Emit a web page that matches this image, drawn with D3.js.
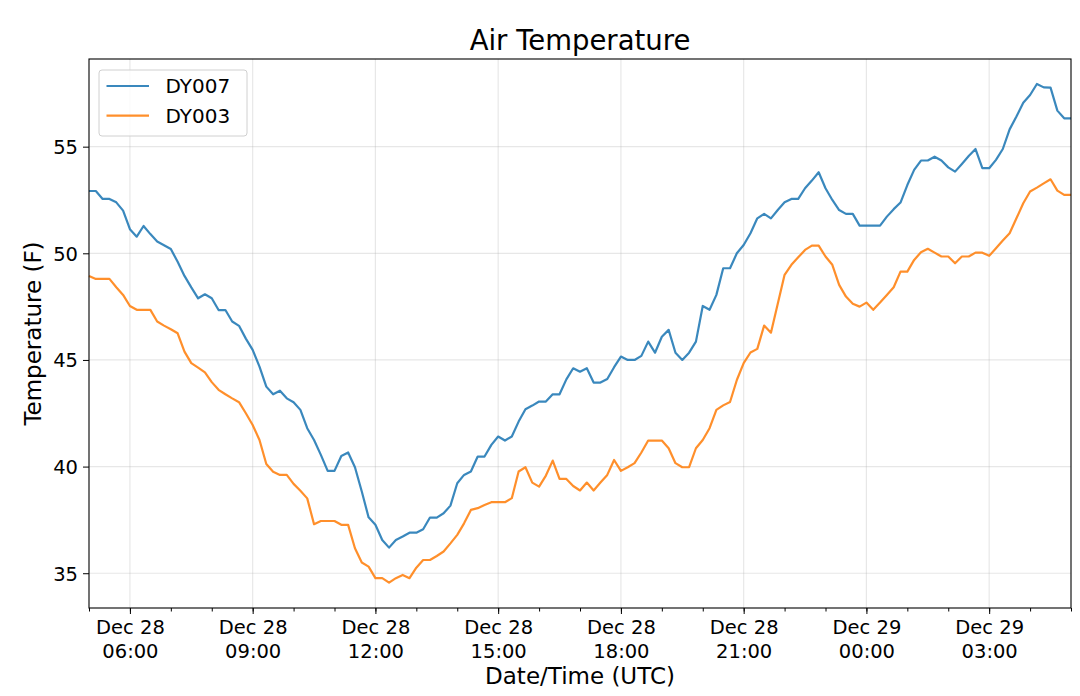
<!DOCTYPE html>
<html>
<head>
<meta charset="utf-8">
<script src="https://cdn.jsdelivr.net/npm/d3@7"></script>
<style>
  body { margin: 0; background: #fff; }
  text { font-family: "DejaVu Sans", sans-serif; fill: #000; }
</style>
</head>
<body>
<div id="chart"></div>
<script>
// Readings every 10 minutes, Dec 28 05:00 to Dec 29 05:00 UTC
const startTime = "2019-12-28T05:00:00Z";
const stepMinutes = 10;

const seriesNames = ["DY007", "DY003"];
const seriesColors = ["#1f77b4", "#ff7f0e"];

const dy007 = [
  52.92, 52.92, 52.55, 52.55, 52.39, 52.0, 51.13, 50.78, 51.28, 50.9,
  50.55, 50.38, 50.2, 49.6, 48.94, 48.4, 47.89, 48.08, 47.89, 47.34,
  47.34, 46.8, 46.6, 46.0, 45.47, 44.69, 43.75, 43.39, 43.56, 43.2,
  43.02, 42.66, 41.8, 41.25, 40.55, 39.8, 39.8, 40.5, 40.66, 39.97,
  38.83, 37.62, 37.27, 36.56, 36.2, 36.56, 36.72, 36.9, 36.9, 37.06,
  37.61, 37.61, 37.81, 38.17, 39.22, 39.61, 39.77, 40.47, 40.47, 41.02,
  41.41, 41.22, 41.41, 42.11, 42.69, 42.86, 43.05, 43.05, 43.39, 43.39,
  44.09, 44.61, 44.45, 44.61, 43.94, 43.94, 44.11, 44.66, 45.16, 45.0,
  45.0, 45.19, 45.86, 45.34, 46.09, 46.41, 45.34, 45.0, 45.34, 45.86,
  47.53, 47.35, 48.05, 49.3, 49.3, 50.0, 50.39, 50.94, 51.64, 51.85,
  51.64, 52.03, 52.39, 52.55, 52.55, 53.05, 53.41, 53.8, 53.05, 52.5,
  52.03, 51.85, 51.85, 51.3, 51.3, 51.3, 51.3, 51.72, 52.07, 52.38,
  53.2, 53.91, 54.35, 54.35, 54.53, 54.35, 54.03, 53.83, 54.19, 54.56,
  54.89, 53.99, 53.99, 54.38, 54.89, 55.81, 56.41, 57.06, 57.42, 57.94,
  57.78, 57.77, 56.69, 56.33, 56.33
];

const dy003 = [
  48.94, 48.8, 48.8, 48.8, 48.41, 48.05, 47.53, 47.35, 47.35, 47.35,
  46.8, 46.61, 46.44, 46.25, 45.39, 44.85, 44.64, 44.42, 43.96, 43.6,
  43.39, 43.2, 43.02, 42.5, 41.95, 41.25, 40.12, 39.76, 39.61, 39.61,
  39.19, 38.87, 38.51, 37.3, 37.45, 37.45, 37.45, 37.27, 37.27, 36.17,
  35.5, 35.31, 34.77, 34.77, 34.56, 34.77, 34.92, 34.77, 35.26, 35.62,
  35.62, 35.81, 36.02, 36.4, 36.8, 37.34, 37.97, 38.05, 38.2, 38.33,
  38.33, 38.33, 38.52, 39.77, 39.97, 39.25, 39.06, 39.58, 40.28, 39.42,
  39.42, 39.09, 38.88, 39.25, 38.88, 39.25, 39.61, 40.31, 39.8, 39.97,
  40.16, 40.66, 41.22, 41.22, 41.22, 40.86, 40.16, 39.97, 39.97, 40.86,
  41.25, 41.8, 42.66, 42.87, 43.03, 44.06, 44.85, 45.35, 45.52, 46.61,
  46.28, 47.63, 48.99, 49.46, 49.81, 50.16, 50.36, 50.36, 49.85, 49.46,
  48.52, 47.97, 47.63, 47.5, 47.69, 47.35, 47.69, 48.05, 48.41, 49.14,
  49.14, 49.69, 50.05, 50.21, 50.03, 49.85, 49.85, 49.53, 49.85, 49.85,
  50.03, 50.03, 49.88, 50.24, 50.6, 50.94, 51.64, 52.35, 52.9, 53.08,
  53.28, 53.47, 52.94, 52.74, 52.74
];

const yTicks = [35, 40, 45, 50, 55];

// Size
const W = 1080, H = 696;
const margin = { top: 59, right: 9, bottom: 88, left: 89 };
const width = W - margin.left - margin.right;
const height = H - margin.top - margin.bottom;

const svg = d3.select("#chart")
  .append("svg")
  .attr("width", W)
  .attr("height", H);

const g = svg.append("g")
  .attr("transform", `translate(${margin.left},${margin.top})`);

// Time for each reading
const t0 = new Date(startTime);
const timeAt = i => d3.utcMinute.offset(t0, i * stepMinutes);
const series = [dy007, dy003].map((vals, k) => ({
  name: seriesNames[k],
  color: seriesColors[k],
  values: vals.map((v, i) => ({ date: timeAt(i), value: v }))
}));

// Scales
const xScale = d3.scaleUtc()
  .domain([timeAt(0), timeAt(dy007.length - 1)])
  .range([0, width]);

const yScale = d3.scaleLinear()
  .domain([33.37, 59.11])
  .range([height, 0]);

const tEnd = d3.utcMinute.offset(timeAt(dy007.length - 1), 1);
const majorTicks = d3.utcHour.range(timeAt(0), tEnd).filter(d => d.getUTCHours() % 3 === 0);
const minorTicks = d3.utcHour.range(timeAt(0), tEnd);

// Grid
g.append("g")
  .selectAll("line")
  .data(majorTicks)
  .join("line")
  .attr("x1", d => xScale(d)).attr("x2", d => xScale(d))
  .attr("y1", 0).attr("y2", height)
  .attr("stroke", "#b0b0b0").attr("stroke-opacity", 0.3).attr("stroke-width", 1.2);

g.append("g")
  .selectAll("line")
  .data(yTicks)
  .join("line")
  .attr("x1", 0).attr("x2", width)
  .attr("y1", d => yScale(d)).attr("y2", d => yScale(d))
  .attr("stroke", "#b0b0b0").attr("stroke-opacity", 0.3).attr("stroke-width", 1.2);

// Lines
const line = d3.line()
  .x(d => xScale(d.date))
  .y(d => yScale(d.value));

series.forEach(s => {
  g.append("path")
    .datum(s.values)
    .attr("fill", "none")
    .attr("stroke", s.color)
    .attr("stroke-opacity", 0.88)
    .attr("stroke-width", 2.2)
    .attr("stroke-linejoin", "round")
    .attr("d", line);
});

// Axes
const fmtDay = d3.utcFormat("%b %d");
const fmtHour = d3.utcFormat("%H:%M");

const xMinor = g.append("g")
  .attr("transform", `translate(0,${height})`)
  .call(d3.axisBottom(xScale).tickValues(minorTicks).tickSize(3.5).tickFormat(""));
xMinor.select(".domain").remove();

const xAxis = g.append("g")
  .attr("transform", `translate(0,${height})`)
  .call(d3.axisBottom(xScale).tickValues(majorTicks).tickSize(6).tickFormat(""));
xAxis.select(".domain").remove();

xAxis.selectAll(".tick").each(function(d) {
  const t = d3.select(this).append("text")
    .attr("fill", "#000")
    .attr("text-anchor", "middle")
    .style("font-size", "19.5px");
  t.append("tspan").attr("x", 0).attr("y", 26).text(fmtDay(d));
  t.append("tspan").attr("x", 0).attr("y", 49.5).text(fmtHour(d));
});

const yAxis = g.append("g")
  .call(d3.axisLeft(yScale).tickValues(yTicks).tickSize(6).tickPadding(5));
yAxis.select(".domain").remove();
yAxis.selectAll("text").style("font-size", "19.5px").attr("dy", "0.35em");

g.selectAll(".tick line").attr("stroke", "#000").attr("stroke-width", 1);

// Frame
g.append("rect")
  .attr("width", width).attr("height", height)
  .attr("fill", "none").attr("stroke", "#000").attr("stroke-width", 1.1);

// Titles
svg.append("text")
  .attr("x", margin.left + width / 2).attr("y", 50)
  .attr("text-anchor", "middle")
  .style("font-size", "27.5px")
  .text("Air Temperature");

svg.append("text")
  .attr("x", margin.left + width / 2).attr("y", 684)
  .attr("text-anchor", "middle")
  .style("font-size", "23px")
  .text("Date/Time (UTC)");

svg.append("text")
  .attr("transform", `translate(41,${margin.top + height / 2}) rotate(-90)`)
  .attr("text-anchor", "middle")
  .style("font-size", "23px")
  .text("Temperature (F)");

// Legend
const legend = g.append("g").attr("transform", "translate(10,11)");
legend.append("rect")
  .attr("width", 148).attr("height", 66).attr("rx", 3)
  .attr("fill", "#fff").attr("fill-opacity", 0.8)
  .attr("stroke", "#d0d0d0").attr("stroke-width", 1);

series.forEach((s, k) => {
  const row = legend.append("g").attr("transform", `translate(0,${16 + k * 29.7})`);
  row.append("line")
    .attr("x1", 7.5).attr("x2", 50)
    .attr("stroke", s.color).attr("stroke-opacity", 0.88).attr("stroke-width", 2.2);
  row.append("text")
    .attr("x", 66.5).attr("dy", "0.36em")
    .style("font-size", "20px")
    .text(s.name);
});
</script>
</body>
</html>
